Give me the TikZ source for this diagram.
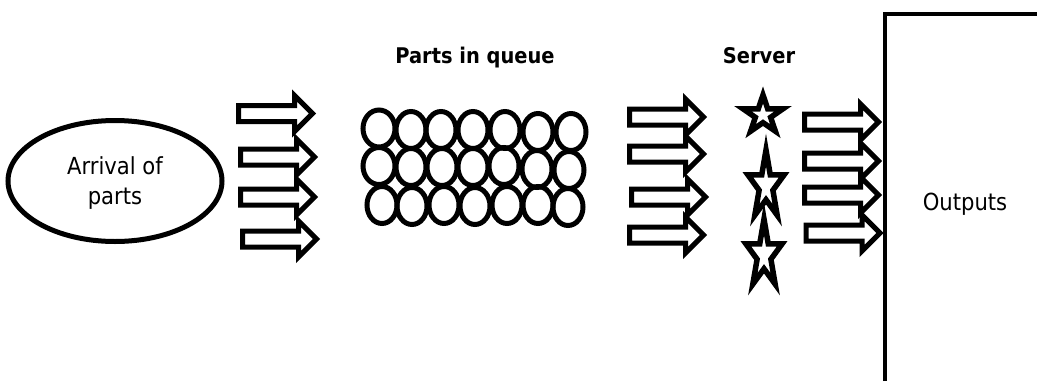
\documentclass[tikz,border=0pt]{standalone}
\usepackage{fontspec}
\setmainfont{DejaVu Sans Condensed}
\usetikzlibrary{shapes.geometric}
\tikzset{
  ink/.style={draw=black,line width=5pt,line join=miter,miter limit=30},
  label/.style={font=\fontsize{23.5}{30}\selectfont,align=center,text=black},
  title/.style={font=\fontsize{21.6}{30}\selectfont\bfseries,text=black,anchor=base},
  blockarrow/.pic={\draw[ink] (0,-8) -- (56,-8) -- (56,-18) -- (74,0) -- (56,18) -- (56,8) -- (0,8) -- cycle;},
  starshape/.pic={\draw[ink,line width=5.5pt] (90:1) -- (126:.382) -- (162:1) -- (198:.382) -- (234:1) -- (270:.382) -- (306:1) -- (342:.382) -- (18:1) -- (54:.382) -- cycle;},
  ball/.style args={#1/#2}{ink,line width=5pt,ellipse,minimum width=#1pt,minimum height=#2pt,inner sep=0pt,outer sep=0pt}
}
\begin{document}
\begin{tikzpicture}[x=1pt,y=-1pt]
\useasboundingbox (0,0) rectangle (1037,381);
\node[ink,ellipse,minimum width=214pt,minimum height=121pt,inner sep=0pt,label] (arrival) at (115,181) {\rule{0pt}{21pt}Arrival of\\parts};
\node[title] (queue) at (475,63) {Parts in queue};
\node[title] (server) at (759,63) {Server};
\node[label,anchor=base] (outputs) at (965,210) {Outputs};
\foreach \x/\y in {238.5/113.5,240.5/157,240.5/197,242.5/239,629.5/117,629.5/154,631.5/197,629.5/235,804.5/122,804.5/161,804.5/195,806/233}
  \pic at (\x,\y) {blockarrow};
\foreach \x/\y/\w in {379/128.5/32,411/130/30,441/130/30,473/130/30,505/130/30,538/132/30,571/132/30,
 379/166/32,411/167/30,442/167/30,473/167/30,504/166/30,537/169/30,569/170/30,
 382/205/30,412/206/30,444/205/30,475/206/30,507/205/30,538/205/30,568/207/30}
  \node[ball=\w/37] at (\x,\y) {};
\begin{scope}[shift={(763,115)}] \pic[xscale=21,yscale=-20] {starshape}; \end{scope}
\begin{scope}[shift={(766,186)}] \pic[xscale=19,yscale=-36] {starshape}; \end{scope}
\begin{scope}[shift={(764,255)}] \pic[xscale=19,yscale=-36] {starshape}; \end{scope}
\coordinate (bstart) at (885,381);
\coordinate (bcorner) at (885,14);
\coordinate (bend) at (1037,14);
\draw[ink,line width=4.6pt] (bstart) -- (bcorner) -- (bend);
\end{tikzpicture}
\end{document}
